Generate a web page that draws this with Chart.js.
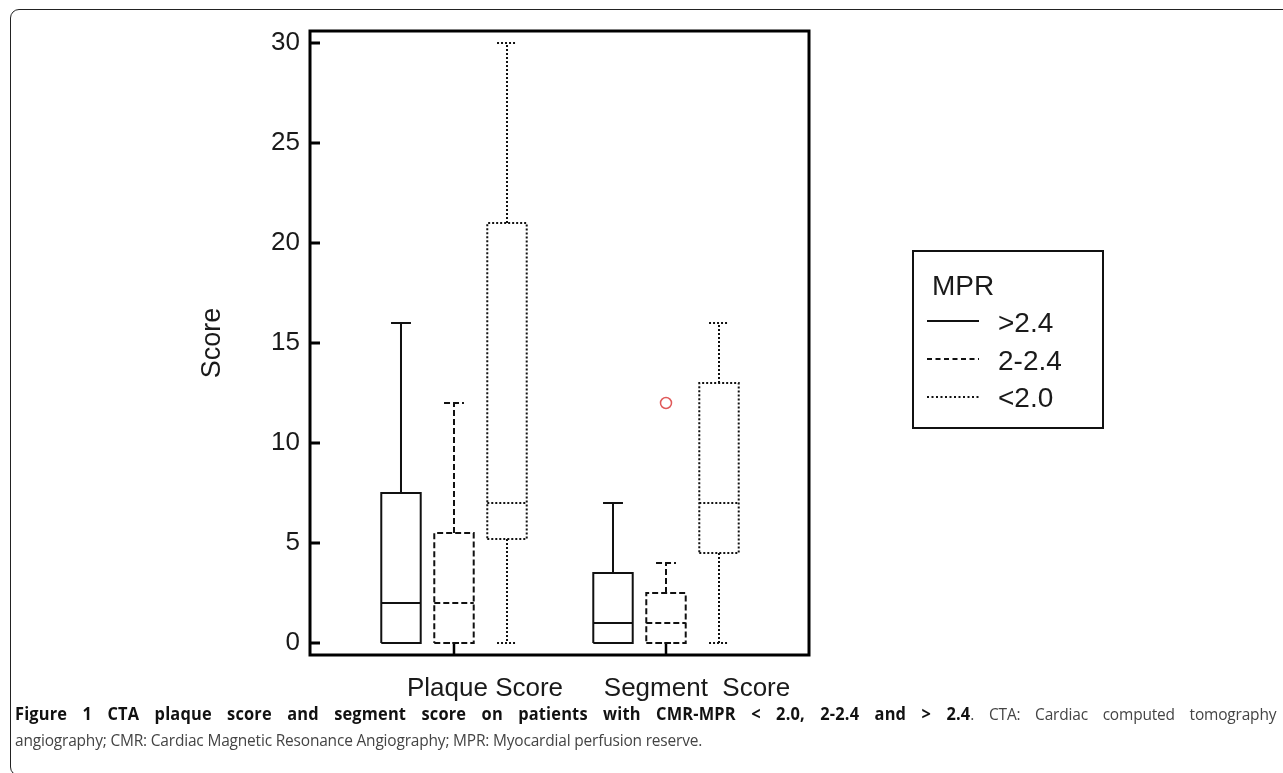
<!DOCTYPE html>
<html>
<head>
<meta charset="utf-8">
<title>CTA plaque score and segment score</title>
<script src="https://cdn.jsdelivr.net/npm/chart.js@4.4.1/dist/chart.umd.min.js"></script>
<style>
  html, body { margin: 0; padding: 0; background: #fff; }
  body { width: 1283px; height: 773px; position: relative; overflow: hidden; }
  #frame { position: absolute; left: 10px; top: 9px; width: 1300px; height: 767px; box-sizing: border-box;
           border: 1.5px solid #222; border-radius: 9px; }
  #chartBox { position: absolute; left: 0; top: 0; width: 1283px; height: 705px; }
  #legend { position: absolute; left: 912px; top: 250px; width: 192px; height: 179px; box-sizing: border-box;
            border: 2px solid #111; font-family: "Liberation Sans", Arial, sans-serif; font-size: 28px;
            line-height: 29px; color: #1a1a1a; }
  #legend div { position: absolute; white-space: nowrap; }
  #legend svg { position: absolute; left: 13px; width: 52px; height: 4px; }
  #caption { position: absolute; left: 15px; top: 700px; width: 1386px; font-family: "Open Sans", sans-serif;
             font-size: 17px; letter-spacing: -0.2px; line-height: 26px; color: #444;
             transform: scaleX(0.91); transform-origin: 0 0; }
  #caption .l1 { text-align: justify; text-align-last: justify; }
  #caption b { color: #111; font-size: 18px; letter-spacing: 0.2px; }
</style>
</head>
<body>
<div id="frame"></div>
<div id="chartBox"><canvas id="grafico"></canvas></div>

<div id="legend">
  <div style="left:18px; top:19px;">MPR</div>
  <svg style="top:67px;"><line x1="0" y1="2" x2="52" y2="2" stroke="#111" stroke-width="2"/></svg>
  <div style="left:84px; top:56px;">&gt;2.4</div>
  <svg style="top:105px;"><line x1="0" y1="2" x2="52" y2="2" stroke="#111" stroke-width="2" stroke-dasharray="5,3.5"/></svg>
  <div style="left:84px; top:94px;">2-2.4</div>
  <svg style="top:143px;"><line x1="0" y1="2" x2="52" y2="2" stroke="#111" stroke-width="2" stroke-dasharray="2,2.5"/></svg>
  <div style="left:84px; top:131px;">&lt;2.0</div>
</div>

<div id="caption">
  <div class="l1"><b>Figure 1 CTA plaque score and segment score on patients with CMR-MPR &lt; 2.0, 2-2.4 and &gt; 2.4</b>. CTA: Cardiac computed tomography</div>
  <div>angiography; CMR: Cardiac Magnetic Resonance Angiography; MPR: Myocardial perfusion reserve.</div>
</div>

<script>
// categorias e grupos MPR
const categories = ['Plaque Score', 'Segment  Score'];
const groups = ['>2.4', '2-2.4', '<2.0'];

// resumo de cinco números, [grupo][categoria]
const whiskerLow  = [[0, 0],   [0, 0],   [0, 0]];
const quartile1   = [[0, 0],   [0, 0],   [5.2, 4.5]];
const medians     = [[2, 1],   [2, 1],   [7, 7]];
const quartile3   = [[7.5, 3.5], [5.5, 2.5], [21, 13]];
const whiskerHigh = [[16, 7],  [12, 4],  [30, 16]];

// valores atípicos
const outlierGroup = [1];
const outlierCat   = [1];
const outlierValue = [12];

const yTicks = [0, 5, 10, 15, 20, 25, 30];

const groupOffset = [-0.25, 0, 0.25];
const BOX_HALF = 0.093;
const CAP_HALF = 0.047;
const dashes = [[], [6, 3], [2, 2]];

function boxPath(c, lo, q1, med, q3, hi) {
    const w = BOX_HALF, cw = CAP_HALF;
    return [
        {x: c - w, y: q1}, {x: c + w, y: q1}, {x: c + w, y: q3}, {x: c - w, y: q3}, {x: c - w, y: q1}, {x: c, y: null},
        {x: c - w, y: med}, {x: c + w, y: med}, {x: c, y: null},
        {x: c, y: q3}, {x: c, y: hi}, {x: c, y: null},
        {x: c - cw, y: hi}, {x: c + cw, y: hi}, {x: c, y: null},
        {x: c, y: q1}, {x: c, y: lo}, {x: c, y: null},
        {x: c - cw, y: lo}, {x: c + cw, y: lo}, {x: c, y: null}
    ];
}

const datasets = groups.map((g, gi) => {
    let pts = [];
    categories.forEach((cat, ci) => {
        const c = ci + 1 + groupOffset[gi];
        pts = pts.concat(boxPath(c, whiskerLow[gi][ci], quartile1[gi][ci], medians[gi][ci],
                                 quartile3[gi][ci], whiskerHigh[gi][ci]));
    });
    return {
        type: 'line',
        label: g,
        data: pts,
        borderColor: '#111',
        borderWidth: 2,
        borderDash: dashes[gi],
        pointRadius: 0,
        spanGaps: false,
        tension: 0,
        fill: false
    };
});

datasets.push({
    type: 'scatter',
    label: 'outliers',
    data: outlierValue.map((v, i) => ({x: outlierCat[i] + 1 + groupOffset[outlierGroup[i]], y: v})),
    pointStyle: 'circle',
    pointRadius: 5.5,
    borderColor: '#e05a5a',
    borderWidth: 1.5,
    backgroundColor: 'rgba(0,0,0,0)'
});

// moldura e marcas para dentro
const molduraPlugin = {
    id: 'moldura',
    afterDatasetsDraw(chart) {
        const {ctx, chartArea: a, scales: {x, y}} = chart;
        ctx.save();
        ctx.strokeStyle = '#000';
        ctx.lineWidth = 3;
        ctx.strokeRect(a.left, a.top, a.right - a.left, a.bottom - a.top);
        ctx.beginPath();
        y.ticks.forEach(t => {
            const py = y.getPixelForValue(t.value);
            ctx.moveTo(a.left, py);
            ctx.lineTo(a.left + 10, py);
        });
        ctx.stroke();
        ctx.lineWidth = 2.5;
        ctx.beginPath();
        x.ticks.forEach(t => {
            const px = x.getPixelForValue(t.value);
            ctx.moveTo(px, a.bottom);
            ctx.lineTo(px, a.bottom - 11);
        });
        ctx.stroke();
        ctx.restore();
    }
};

const familia = '"Liberation Sans", Arial, sans-serif';

new Chart(document.getElementById('grafico'), {
    type: 'line',
    data: {datasets: datasets},
    options: {
        responsive: true,
        maintainAspectRatio: false,
        animation: false,
        layout: {padding: {left: 0, top: 31, right: 474, bottom: 0}},
        plugins: {
            legend: {display: false},
            tooltip: {enabled: false}
        },
        scales: {
            x: {
                type: 'linear',
                min: 0.3208,
                max: 2.6745,
                afterBuildTicks: s => { s.ticks = categories.map((c, i) => ({value: i + 1})); },
                afterFit: s => { s.height = 50; },
                grid: {display: false, drawTicks: false},
                border: {display: false},
                ticks: {
                    padding: 18,
                    labelOffset: 31,
                    color: '#1a1a1a',
                    font: {family: familia, size: 26},
                    maxRotation: 0,
                    autoSkip: false,
                    callback: v => categories[Math.round(v) - 1] || ''
                }
            },
            y: {
                type: 'linear',
                min: -0.6,
                max: 30.6,
                afterBuildTicks: s => { s.ticks = yTicks.map(v => ({value: v})); },
                afterFit: s => { s.width = 310; },
                grid: {display: false, drawTicks: false},
                border: {display: false},
                ticks: {
                    padding: 10,
                    color: '#1a1a1a',
                    font: {family: familia, size: 26},
                    autoSkip: false
                },
                title: {
                    display: true,
                    text: 'Score',
                    color: '#1a1a1a',
                    font: {family: familia, size: 27},
                    padding: {top: 196, bottom: 0}
                }
            }
        }
    },
    plugins: [molduraPlugin]
});
</script>
</body>
</html>
